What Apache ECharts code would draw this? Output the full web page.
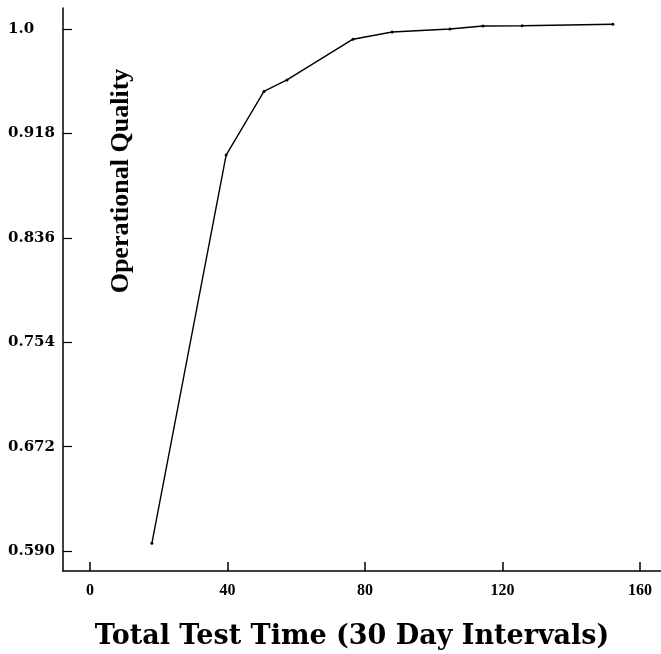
<!DOCTYPE html>
<html>
<head>
<meta charset="utf-8">
<script src="https://cdn.jsdelivr.net/npm/echarts@6/dist/echarts.min.js"></script>
<style>html,body{margin:0;padding:0;background:#fff}#c{width:661px;height:654px}</style>
</head>
<body>
<div id="c"></div>
<script>
// Data
const timeValues = [18.0, 39.6, 50.6, 57.3, 76.5, 87.9, 104.7, 114.3, 125.7, 152.1];
const qualityValues = [0.596, 0.901, 0.951, 0.960, 0.992, 0.9976, 1.000, 1.0024, 1.0026, 1.0037];
const xTickValues = [0, 40, 80, 120, 160];
const yTickValues = [0.590, 0.672, 0.754, 0.836, 0.918, 1.0];
const yTickLabels = ['0.590', '0.672', '0.754', '0.836', '0.918', '1.0'];
const xTitle = 'Total Test Time (30 Day Intervals)';
const yTitle = 'Operational Quality';

const chart = echarts.init(document.getElementById('c'), null, {renderer: 'canvas'});
const seriesData = timeValues.map((t, i) => [t, qualityValues[i]]);

chart.setOption({
  animation: false,
  backgroundColor: '#fff',
  grid: {left: 63, right: 0, top: 8, bottom: 83, containLabel: false},
  xAxis: {
    type: 'value',
    min: -7.85,
    max: 166.1,
    splitLine: {show: false},
    axisLine: {show: true, onZero: false, lineStyle: {color: '#000', width: 1.5}},
    axisTick: {show: true, inside: true, length: 9, customValues: xTickValues, lineStyle: {color: '#000', width: 1.5}},
    axisLabel: {
      customValues: xTickValues,
      margin: 12,
      color: '#000',
      fontFamily: 'Liberation Serif',
      fontWeight: 'bold',
      fontSize: 16
    }
  },
  yAxis: {
    type: 'value',
    min: 0.5743,
    max: 1.0165,
    splitLine: {show: false},
    axisLine: {show: true, onZero: false, lineStyle: {color: '#000', width: 1.5}},
    axisTick: {show: true, inside: true, length: 9, customValues: yTickValues, lineStyle: {color: '#000', width: 1.2}},
    axisLabel: {
      customValues: yTickValues,
      formatter: function (v) {
        let best = 0, bd = Infinity;
        yTickValues.forEach((t, i) => { const d = Math.abs(t - v); if (d < bd) { bd = d; best = i; } });
        return yTickLabels[best];
      },
      align: 'left',
      margin: 55,
      color: '#000',
      fontFamily: 'DejaVu Serif',
      fontWeight: 'bold',
      fontSize: 15
    }
  },
  series: [{
    type: 'line',
    data: seriesData,
    smooth: false,
    symbol: 'circle',
    symbolSize: 3,
    itemStyle: {color: '#000'},
    lineStyle: {color: '#000', width: 1.4}
  }],
  graphic: [
    {
      type: 'text',
      x: 121, y: 181,
      rotation: Math.PI / 2,
      style: {
        text: yTitle,
        fill: '#000',
        font: 'bold 26px "Liberation Serif"',
        textAlign: 'center',
        textVerticalAlign: 'middle'
      }
    },
    {
      type: 'text',
      x: 352, y: 637,
      style: {
        text: xTitle,
        fill: '#000',
        font: 'bold 27px "DejaVu Serif"',
        textAlign: 'center',
        textVerticalAlign: 'middle'
      }
    }
  ]
});
</script>
</body>
</html>
